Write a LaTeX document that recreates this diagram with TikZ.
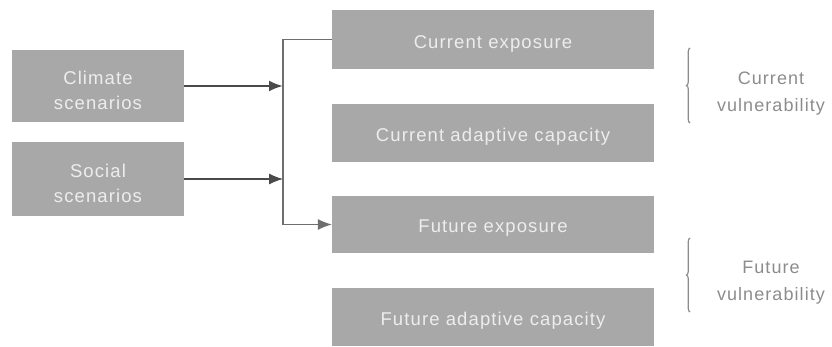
\documentclass[tikz,border=0pt]{standalone}
\usepackage{fontspec}
\setmainfont{Liberation Sans}[LetterSpace=6]
\usetikzlibrary{arrows.meta,decorations.pathreplacing}
\definecolor{boxgrey}{HTML}{A8A8A8}
\definecolor{boxtext}{HTML}{EDEDED}
\definecolor{linegrey}{HTML}{4A4A4A}
\definecolor{trunkgrey}{HTML}{6E6E6E}
\definecolor{labelgrey}{HTML}{8C8C8C}
\tikzset{
  box/.style={fill=boxgrey, draw=none, inner sep=0pt},
  boxtxt/.style={text=boxtext, align=center, inner sep=0pt,
    font=\fontsize{18.5}{25}\selectfont, yshift=-4pt},
  link/.style={draw=trunkgrey, line width=1.1pt},
  linkarrow/.style={link, -{Latex[length=14pt,width=11pt]}},
  vbrace/.style={draw=labelgrey, line width=1.2pt,
    decorate, decoration={brace, amplitude=3.5pt}},
  vlabel/.style={text=labelgrey, align=center,
    font=\fontsize{18}{27}\selectfont}
}
\begin{document}
\begin{tikzpicture}[x=1pt, y=-1pt]
  \useasboundingbox (0,0) rectangle (832,347);

  % scenario boxes
  \node[box, minimum width=172, minimum height=72] (clim) at (98,86) {};
  \node[box, minimum width=172, minimum height=74] (soc) at (98,179) {};
  \node[boxtxt] (climtxt) at (clim) {Climate\\scenarios};
  \node[boxtxt] (soctxt) at (soc) {Social\\scenarios};

  % exposure and capacity boxes
  \node[box, minimum width=322, minimum height=59] (cexp) at (493,39.5) {};
  \node[box, minimum width=322, minimum height=58] (ccap) at (493,133) {};
  \node[box, minimum width=322, minimum height=57] (fexp) at (493,224.5) {};
  \node[box, minimum width=322, minimum height=58] (fcap) at (493,317) {};
  \node[boxtxt] (cexptxt) at (cexp) {Current exposure};
  \node[boxtxt] (ccaptxt) at (ccap) {Current adaptive capacity};
  \node[boxtxt] (fexptxt) at (fexp) {Future exposure};
  \node[boxtxt] (fcaptxt) at (fcap) {Future adaptive capacity};

  % trunk joining scenarios to exposure
  \coordinate (trunk) at (283,0);
  \draw[linkarrow] (cexp.west) -| (trunk |- fexp.west) -- (fexp.west);
  \draw[linkarrow, draw=linegrey, line width=2.2pt] (clim.east) -- (clim.east -| trunk);
  \draw[linkarrow, draw=linegrey] (soc.east) -- (soc.east -| trunk);

  % vulnerability braces
  \coordinate (cb1) at (690,123);
  \coordinate (cb2) at (690,48);
  \coordinate (fb1) at (690,312);
  \coordinate (fb2) at (690,238);
  \draw[vbrace] (cb1) -- (cb2);
  \draw[vbrace] (fb1) -- (fb2);
  \node[vlabel] (cvul) at (771,94) {Current\\vulnerability};
  \node[vlabel] (fvul) at (771,283) {Future\\vulnerability};
\end{tikzpicture}
\end{document}
